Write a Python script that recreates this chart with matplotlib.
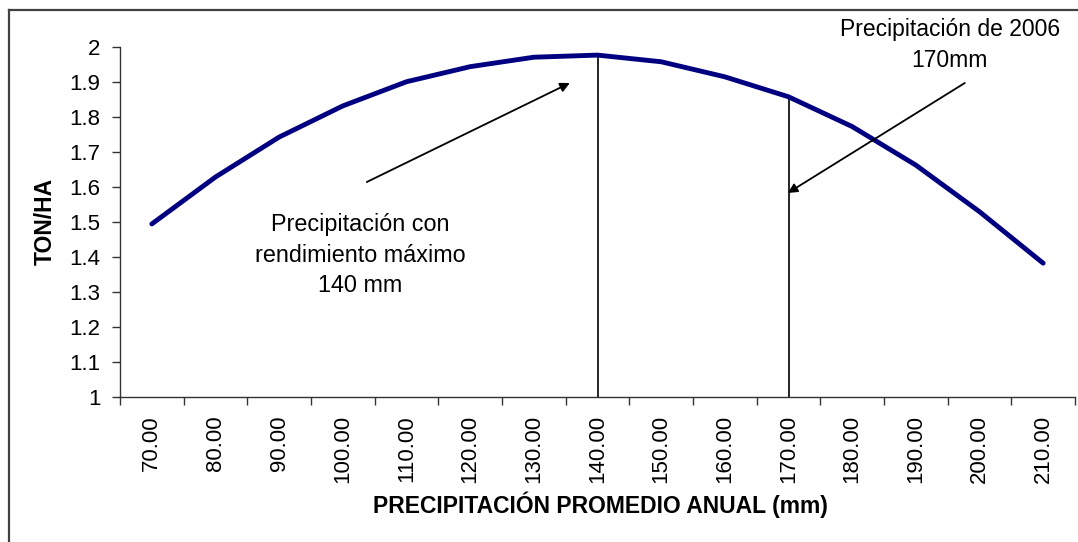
import matplotlib
matplotlib.use("Agg")
import matplotlib.pyplot as plt
from matplotlib.lines import Line2D
import numpy as np

plt.rcParams['font.family'] = ['Liberation Sans', 'DejaVu Sans']

precip = [70, 80, 90, 100, 110, 120, 130, 140, 150, 160, 170, 180, 190, 200, 210]
rendimiento = [1.494, 1.628, 1.742, 1.831, 1.900, 1.943, 1.970, 1.976, 1.957,
               1.914, 1.857, 1.772, 1.662, 1.529, 1.382]
y_ticks = [1, 1.1, 1.2, 1.3, 1.4, 1.5, 1.6, 1.7, 1.8, 1.9, 2]
y_tick_labels = ["1", "1.1", "1.2", "1.3", "1.4", "1.5", "1.6", "1.7", "1.8", "1.9", "2"]
x_label = "PRECIPITACIÓN PROMEDIO ANUAL (mm)"
y_label = "TON/HA"
note_max = "Precipitación con\nrendimiento máximo\n140 mm"
note_2006 = "Precipitación de 2006\n170mm"
max_cat = 140
cat_2006 = 170

W, H = 1078, 542
fig = plt.figure(figsize=(W / 100, H / 100), dpi=100)
ax = fig.add_axes([120 / W, 1 - 397 / H, 955 / W, (397 - 46.7) / H])

n = len(precip)
xs = np.arange(n)
ax.plot(xs, rendimiento, color='#000080', lw=3.5, solid_capstyle='round',
        solid_joinstyle='round', zorder=3)

ax.set_xlim(-0.5, n - 0.5)
ax.set_ylim(1, 2)

# vertical reference lines
i_max = precip.index(max_cat)
i_06 = precip.index(cat_2006)
ax.vlines([i_max, i_06], 1, [rendimiento[i_max], rendimiento[i_06]],
          color='black', lw=1.2, zorder=2)

# ticks
ax.set_yticks(y_ticks)
ax.set_yticklabels(y_tick_labels)
ax.set_xticks(xs)
ax.set_xticklabels([f"{p:.2f}" for p in precip], rotation=90, va='top')
ax.set_xticks(np.arange(-0.5, n, 1.0), minor=True)
ax.tick_params(axis='x', which='major', length=0, pad=13, labelsize=16)
ax.tick_params(axis='x', which='minor', length=6, width=1, color='#333333', direction='out')
ax.tick_params(axis='y', which='major', length=6, width=1, color='#333333',
               direction='out', pad=8, labelsize=16)

for s in ['top', 'right']:
    ax.spines[s].set_visible(False)
for s in ['left', 'bottom']:
    ax.spines[s].set_color('#333333')
    ax.spines[s].set_linewidth(1.0)

ax.set_xlabel(x_label, fontsize=16.5, fontweight='bold')
ax.xaxis.label.set_va('center')
ax.xaxis.set_label_coords(0.5026, (397 - 505) / 350.3)
ax.set_ylabel(y_label, fontsize=16.5, fontweight='bold')
ax.yaxis.label.set_va('center')
ax.yaxis.set_label_coords((45 - 120) / 955, 0.5)

# annotations
def px2data(px, py):
    return ((px - 152) / 63.67, 1 + (397 - py) / 350.3)

ax.text(*px2data(360, 255), note_max, ha='center', va='center',
        fontsize=16.8, linespacing=1.44)
ax.text(*px2data(950, 45), note_2006, ha='center', va='center',
        fontsize=16.5, linespacing=1.44, clip_on=False)

arrow_kw = dict(arrowstyle='-|>', mutation_scale=14, lw=1.3, color='black',
                shrinkA=0, shrinkB=0)
ax.annotate('', xy=px2data(570, 83), xytext=px2data(367, 182), arrowprops=arrow_kw)
ax.annotate('', xy=px2data(788, 193), xytext=px2data(965, 83), arrowprops=arrow_kw,
            annotation_clip=False)

# outer frame (left and top edges visible)
fig.add_artist(Line2D([9 / W, 9 / W], [0, 1 - 10 / H], color='#404040', lw=1.6))
fig.add_artist(Line2D([9 / W, 1], [1 - 10 / H, 1 - 10 / H], color='#404040', lw=1.6))

fig.savefig("out.png", dpi=100)
